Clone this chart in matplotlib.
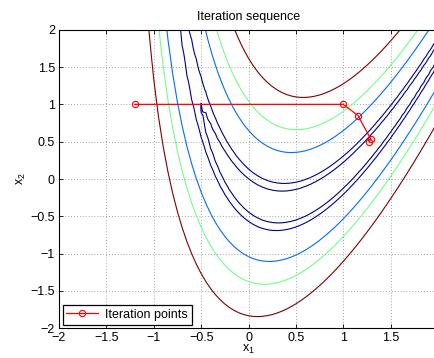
import numpy as np
import matplotlib
matplotlib.use("Agg")
import matplotlib.pyplot as plt

plt.rcParams['font.family'] = ['Liberation Sans', 'DejaVu Sans']
plt.rcParams['mathtext.fontset'] = 'custom'
plt.rcParams['mathtext.rm'] = 'Liberation Sans'
plt.rcParams['mathtext.it'] = 'Liberation Sans'
plt.rcParams['mathtext.default'] = 'regular'

# Iterates of the minimisation run
iter_x1 = [-1.2, 1.0, 1.155, 1.29, 1.275]
iter_x2 = [1.0, 1.0, 0.85, 0.535, 0.50]

# Contour levels of the objective
levels = [0.5, 1, 5, 10, 20]

# Banana-shaped objective: curved valley in a tilted frame
center = (0.27, -0.37)     # valley vertex
tilt_deg = 9.4             # tilt of the valley axis
curv = 1.25                # valley curvature
steep = 9.0                # weight across the valley
along = 0.23               # weight along the valley
along_shift = 0.4
floor = 0.05

ticks = np.arange(-2, 2.01, 0.5)


def objective(x1, x2):
    t = np.deg2rad(tilt_deg)
    dx, dy = x1 - center[0], x2 - center[1]
    u = dx * np.cos(t) - dy * np.sin(t)
    v = dx * np.sin(t) + dy * np.cos(t)
    return steep * (v - curv * u ** 2) ** 2 + along * (u - along_shift) ** 2 + floor


g = np.linspace(-2, 2, 81)
X1, X2 = np.meshgrid(g, g)
F = objective(X1, X2)

fig = plt.figure(figsize=(4.35, 3.58), dpi=100)
ax = fig.add_axes([0.1356, 0.083, 0.8714, 0.834])

ax.contour(X1, X2, F, levels=levels, cmap='jet', vmin=min(levels), vmax=max(levels),
           linewidths=0.8)
ax.plot(iter_x1, iter_x2, '-o', color='red', lw=0.9, ms=4.5, mfc='none', mew=0.8,
        label='Iteration points')

ax.set_xlim(-2, 2)
ax.set_ylim(-2, 2)
ax.set_xticks(ticks)
ax.set_yticks(ticks)
fmt = lambda v: ('%g' % v).replace('-', '\u2212')
ax.set_xticklabels([fmt(v) for v in ticks])
ax.set_yticklabels([fmt(v) for v in ticks])
ax.tick_params(direction='in', top=True, right=True, labelsize=9, length=3, width=0.6, pad=3)
ax.grid(True, linestyle=(0, (1, 2.5)), color='#888888', linewidth=0.6)
for s in ax.spines.values():
    s.set_linewidth(0.8)

ax.set_title('Iteration sequence', fontsize=9, pad=7)
ax.set_xlabel('x$_1$', fontsize=9, labelpad=-1)
ax.set_ylabel('x$_2$', fontsize=9, labelpad=2)

leg = ax.legend(loc='lower left', fontsize=9, fancybox=False, framealpha=1,
                edgecolor='black', borderaxespad=0.3, handlelength=2.5,
                borderpad=0.3, handletextpad=0.6)
leg.get_frame().set_linewidth(0.9)

fig.savefig('out.png', dpi=100)
